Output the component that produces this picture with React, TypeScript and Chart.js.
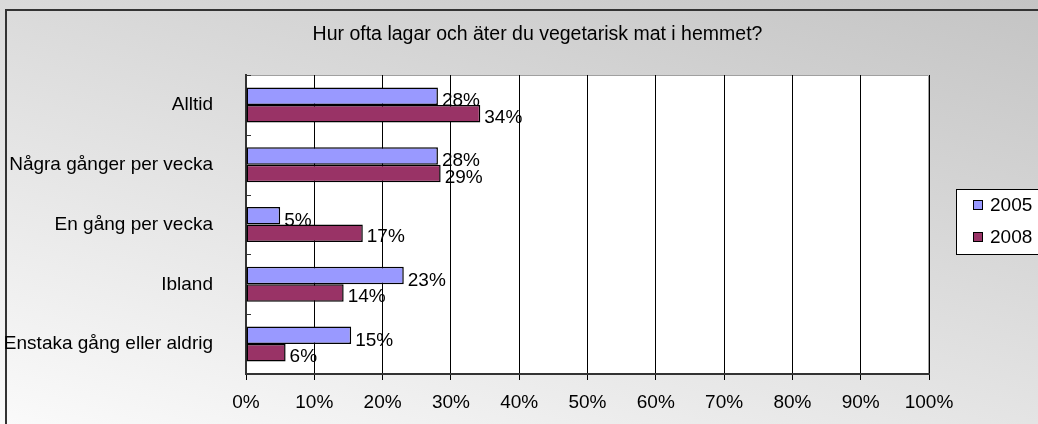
import React, { useEffect, useRef } from "react";
import { Chart, registerables } from "chart.js";

Chart.register(...registerables);

const categories = [
  "Alltid",
  "Några gånger per vecka",
  "En gång per vecka",
  "Ibland",
  "Enstaka gång eller aldrig",
];
const seriesLabels = ["2005", "2008"];
const values2005 = [28.1, 28.1, 5.0, 23.1, 15.4];
const values2008 = [34.3, 28.5, 17.1, 14.3, 5.8];
const seriesColors = ["#9999FF", "#993366"];
const titleText = "Hur ofta lagar och äter du vegetarisk mat i hemmet?";

const FONT = "'Liberation Sans', Arial, sans-serif";
const W = 1038;
const H = 424;

const decorPlugin = {
  id: "decor",
  beforeDraw(chart: any) {
    const ctx = chart.ctx;
    const ca = chart.chartArea;
    ctx.save();
    const g = ctx.createLinearGradient(1038, 0, 852, 663);
    g.addColorStop(0, "#c4c4c4");
    g.addColorStop(1, "#fafafa");
    ctx.fillStyle = g;
    ctx.fillRect(0, 0, W, H);
    ctx.strokeStyle = "#333333";
    ctx.lineWidth = 2;
    ctx.beginPath();
    ctx.moveTo(6, H + 10);
    ctx.lineTo(6, 10);
    ctx.lineTo(W + 10, 10);
    ctx.stroke();
    ctx.fillStyle = "#ffffff";
    ctx.fillRect(ca.left, ca.top, ca.right - ca.left, ca.bottom - ca.top);
    ctx.strokeStyle = "#a0a0a0";
    ctx.lineWidth = 1;
    ctx.beginPath();
    ctx.moveTo(ca.left, ca.top + 0.5);
    ctx.lineTo(ca.right - 0.5, ca.top + 0.5);
    ctx.lineTo(ca.right - 0.5, ca.bottom);
    ctx.stroke();
    ctx.fillStyle = "#000";
    ctx.font = `19.5px ${FONT}`;
    ctx.textAlign = "center";
    ctx.textBaseline = "middle";
    ctx.fillText(titleText, 537.5, 35);
    ctx.restore();
  },
  afterDraw(chart: any) {
    const ctx = chart.ctx;
    const ca = chart.chartArea;
    const yScale = chart.scales.y;
    ctx.save();
    ctx.strokeStyle = "#333";
    ctx.lineWidth = 1;
    for (let i = 0; i <= categories.length; i++) {
      const y = Math.round(yScale.getPixelForValue(i - 0.5)) + 0.5;
      ctx.beginPath();
      ctx.moveTo(ca.left, y);
      ctx.lineTo(ca.left + 5, y);
      ctx.stroke();
    }
    const lx = 956;
    const ly = 189;
    ctx.fillStyle = "#ffffff";
    ctx.fillRect(lx, ly, W + 20 - lx, 65);
    ctx.strokeStyle = "#000";
    ctx.strokeRect(lx + 0.5, ly + 0.5, W + 20 - lx, 65);
    chart.data.datasets.forEach((ds: any, i: number) => {
      const cy = 205 + i * 32;
      ctx.fillStyle = ds.backgroundColor;
      ctx.fillRect(973, cy - 5, 10, 10);
      ctx.strokeStyle = "#000";
      ctx.strokeRect(973.5, cy - 4.5, 9, 9);
      ctx.fillStyle = "#000";
      ctx.font = `19px ${FONT}`;
      ctx.textAlign = "left";
      ctx.textBaseline = "middle";
      ctx.fillText(ds.label, 990, cy + 1);
    });
    ctx.restore();
  },
  afterDatasetsDraw(chart: any) {
    const ctx = chart.ctx;
    ctx.save();
    ctx.fillStyle = "#000";
    ctx.font = `19px ${FONT}`;
    ctx.textAlign = "left";
    ctx.textBaseline = "middle";
    chart.data.datasets.forEach((ds: any, di: number) => {
      const meta = chart.getDatasetMeta(di);
      meta.data.forEach((el: any, i: number) => {
        const v = ds.data[i];
        ctx.fillText(Math.round(v) + "%", el.x + 4, el.y + (di === 0 ? 5 : 4));
      });
    });
    ctx.restore();
  },
};

export default function App() {
  const ref = useRef<HTMLCanvasElement>(null);
  useEffect(() => {
    if (!ref.current) return;
    Chart.defaults.font.family = FONT;
    const chart = new Chart(ref.current, {
      type: "bar",
      data: {
        labels: categories,
        datasets: [
          {
            label: seriesLabels[0],
            data: values2005,
            backgroundColor: seriesColors[0],
            borderColor: "#000",
            borderWidth: 1.5,
            borderSkipped: false,
            categoryPercentage: 0.585,
            barPercentage: 1,
          },
          {
            label: seriesLabels[1],
            data: values2008,
            backgroundColor: seriesColors[1],
            borderColor: "#000",
            borderWidth: 1.5,
            borderSkipped: false,
            categoryPercentage: 0.585,
            barPercentage: 1,
          },
        ],
      },
      options: {
        indexAxis: "y",
        responsive: false,
        animation: false,
        devicePixelRatio: 1,
        layout: { padding: { left: 0, right: 109, top: 75, bottom: 0 } },
        plugins: {
          legend: { display: false },
          title: { display: false },
          tooltip: { enabled: false },
        },
        scales: {
          x: {
            type: "linear",
            min: 0,
            max: 100,
            ticks: {
              stepSize: 10,
              color: "#000",
              font: { size: 19 },
              padding: 11,
              maxRotation: 0,
              callback: (v: any) => v + "%",
            },
            grid: {
              color: "#000",
              lineWidth: 1,
              tickLength: 6,
              drawTicks: true,
            },
            border: { display: true, color: "#333", width: 2 },
            afterFit: (s: any) => {
              s.height = 50;
            },
          },
          y: {
            type: "category",
            grid: { display: false, drawTicks: false },
            ticks: { color: "#000", font: { size: 19 }, padding: 33, autoSkip: false },
            border: { display: true, color: "#333", width: 2 },
            afterFit: (s: any) => {
              s.width = 246;
            },
          },
        },
      },
      plugins: [decorPlugin],
    } as any);
    return () => chart.destroy();
  }, []);
  return (
    <div style={{ position: "absolute", left: 0, top: 0, width: W, height: H, overflow: "hidden" }}>
      <canvas ref={ref} width={W} height={H} style={{ width: W, height: H, display: "block" }} />
    </div>
  );
}
